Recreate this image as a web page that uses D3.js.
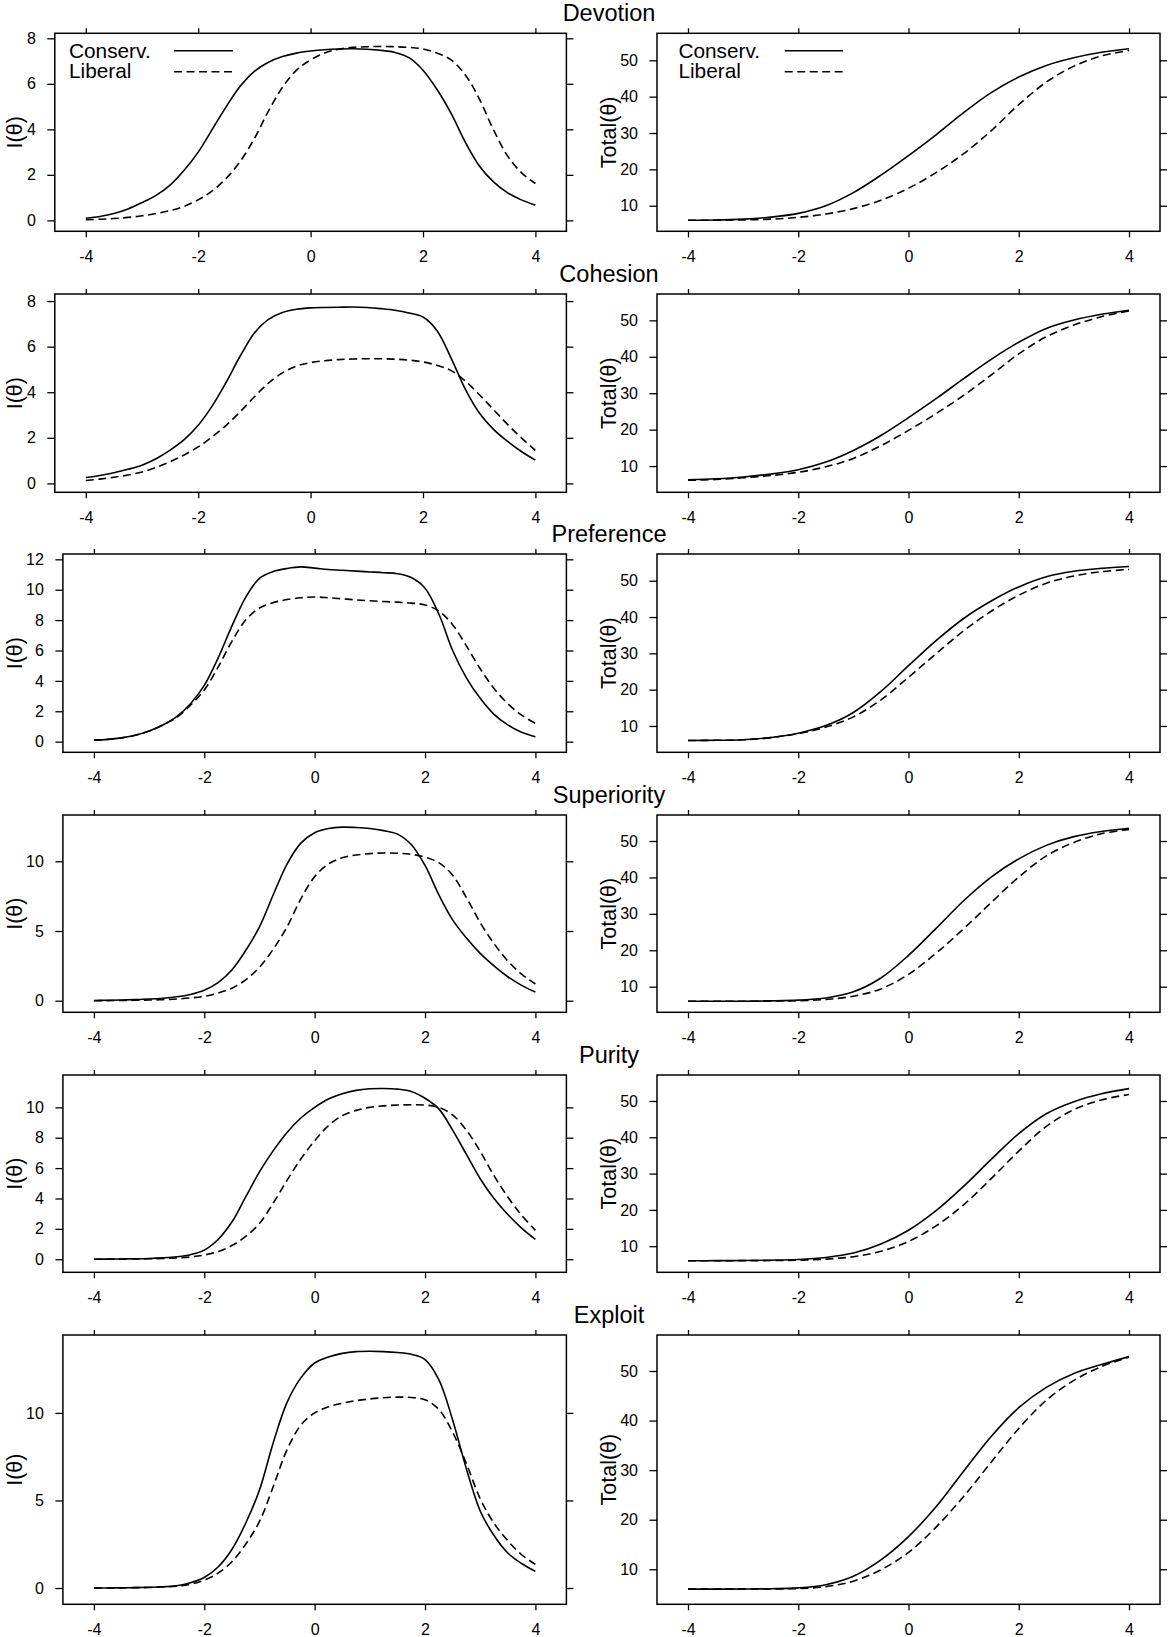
<!DOCTYPE html>
<html><head><meta charset="utf-8">
<script src="https://cdn.jsdelivr.net/npm/d3@7"></script>
<style>
body{margin:0;background:#fff}
svg{display:block}
text{font-family:"Liberation Sans",Arial,Helvetica,sans-serif;fill:#000}
</style>
</head><body>
<svg id="chart" width="1169" height="1637"></svg>
<script>
// ---------------- DATA ----------------
const titles = ["Devotion","Cohesion","Preference","Superiority","Purity","Exploit"];
const legendLabels = ["Conserv.","Liberal"];
const xTicks = [-4,-2,0,2,4];
const leftYTicks = [[0,2,4,6,8],[0,2,4,6,8],[0,2,4,6,8,10,12],[0,5,10],[0,2,4,6,8,10],[0,5,10]];
const rightYTicks = [10,20,30,40,50];

const thetaInfo = [-4,-3.75,-3.5,-3.25,-3,-2.75,-2.5,-2.25,-2,-1.75,-1.5,-1.25,-1,-0.75,-0.5,-0.25,0,0.25,0.5,0.75,1,1.25,1.5,1.75,2,2.25,2.5,2.75,3,3.25,3.5,3.75,4];
const thetaTotal = [-4,-3.5,-3,-2.5,-2,-1.5,-1,-0.5,0,0.5,1,1.5,2,2.5,3,3.5,4];

const devotionInfoConserv = [0.09,0.17,0.3,0.5,0.78,1.1,1.55,2.2,3.0,4.0,5.0,5.9,6.55,6.95,7.2,7.35,7.44,7.5,7.53,7.54,7.52,7.47,7.38,7.15,6.6,5.75,4.7,3.45,2.4,1.7,1.22,0.9,0.67];
const devotionInfoLiberal = [0.03,0.05,0.08,0.13,0.2,0.3,0.43,0.62,0.9,1.3,1.85,2.6,3.6,4.8,5.85,6.6,7.05,7.35,7.52,7.6,7.63,7.64,7.63,7.6,7.53,7.35,7.05,6.4,5.35,4.0,2.85,2.1,1.62];
const cohesionInfoConserv = [0.26,0.35,0.47,0.62,0.8,1.08,1.46,1.92,2.55,3.4,4.45,5.6,6.6,7.2,7.5,7.64,7.7,7.72,7.73,7.74,7.72,7.67,7.6,7.48,7.3,6.7,5.5,4.15,3.1,2.38,1.85,1.4,1.02];
const cohesionInfoLiberal = [0.13,0.19,0.27,0.37,0.5,0.7,0.95,1.25,1.6,2.05,2.55,3.15,3.8,4.4,4.85,5.15,5.3,5.38,5.43,5.46,5.47,5.47,5.45,5.41,5.33,5.18,4.95,4.5,3.9,3.25,2.6,2.0,1.45];
const preferenceInfoConserv = [0.1,0.15,0.25,0.42,0.7,1.1,1.65,2.5,3.7,5.5,7.6,9.5,10.75,11.2,11.4,11.5,11.42,11.33,11.28,11.22,11.17,11.12,11.05,10.8,10.1,8.4,6.0,4.2,2.85,1.8,1.1,0.62,0.32];
const preferenceInfoLiberal = [0.1,0.15,0.25,0.42,0.7,1.1,1.6,2.4,3.4,4.9,6.6,8.0,8.8,9.15,9.35,9.47,9.52,9.47,9.4,9.33,9.27,9.22,9.18,9.12,9.0,8.6,7.7,6.3,4.8,3.5,2.5,1.75,1.2];
const superiorityInfoConserv = [0.02,0.03,0.05,0.08,0.12,0.18,0.28,0.45,0.75,1.3,2.2,3.6,5.3,7.6,9.8,11.3,12.05,12.35,12.45,12.42,12.35,12.2,11.95,11.2,9.7,7.6,5.8,4.5,3.4,2.5,1.72,1.1,0.62];
const superiorityInfoLiberal = [0.0,0.01,0.02,0.03,0.05,0.08,0.12,0.2,0.32,0.55,0.9,1.5,2.4,3.7,5.3,7.3,8.9,9.8,10.25,10.45,10.55,10.6,10.58,10.5,10.3,9.9,9.0,7.4,5.6,4.1,2.85,1.9,1.2];
const purityInfoConserv = [0.0,0.01,0.02,0.03,0.05,0.09,0.16,0.3,0.6,1.3,2.45,4.1,5.75,7.15,8.35,9.3,10.0,10.55,10.9,11.12,11.22,11.24,11.2,11.05,10.6,9.9,8.5,6.9,5.3,4.0,2.95,2.05,1.3];
const purityInfoLiberal = [0.0,0.0,0.01,0.02,0.03,0.05,0.08,0.15,0.28,0.5,0.9,1.5,2.35,3.7,5.2,6.6,7.8,8.8,9.45,9.8,10.0,10.1,10.15,10.17,10.15,10.0,9.5,8.5,7.1,5.5,4.1,2.9,1.9];
const exploitInfoConserv = [0.0,0.0,0.01,0.02,0.04,0.07,0.13,0.3,0.6,1.2,2.2,3.7,5.6,8.3,10.6,12.0,12.85,13.2,13.4,13.5,13.52,13.5,13.45,13.35,13.05,11.9,9.6,6.8,4.4,3.0,2.0,1.4,0.95];
const exploitInfoLiberal = [0.0,0.0,0.01,0.02,0.03,0.06,0.11,0.22,0.45,0.85,1.5,2.5,3.8,5.8,7.9,9.3,10.0,10.35,10.55,10.7,10.8,10.87,10.9,10.88,10.75,10.2,8.9,7.1,5.1,3.7,2.7,1.9,1.35];

const devotionTotalConserv = [6.0,6.05,6.3,6.85,7.9,10.0,13.6,18.4,23.8,29.5,35.6,41.1,45.4,48.6,50.7,52.2,53.2];
const devotionTotalLiberal = [6.0,6.03,6.1,6.3,6.8,7.7,9.2,11.5,14.8,19.1,24.3,30.6,37.8,44.0,48.4,51.2,52.7];
const cohesionTotalConserv = [6.2,6.5,7.0,7.8,9.0,11.1,14.3,18.4,23.3,28.5,34.0,39.3,44.0,47.8,50.1,51.7,52.8];
const cohesionTotalLiberal = [6.1,6.3,6.8,7.4,8.3,9.8,12.1,15.6,19.8,24.4,29.4,35.0,40.8,45.5,48.7,51.0,52.6];
const preferenceTotalConserv = [6.0,6.05,6.2,6.8,8.0,10.1,13.7,19.5,26.6,33.5,39.6,44.4,48.3,51.1,52.6,53.4,53.9];
const preferenceTotalLiberal = [6.0,6.05,6.2,6.8,7.9,9.7,12.5,17.2,23.4,29.9,36.2,41.6,46.0,49.3,51.3,52.5,53.1];
const superiorityTotalConserv = [6.0,6.0,6.02,6.1,6.3,6.9,8.6,12.4,18.6,26.0,33.6,40.1,45.1,48.8,51.2,52.6,53.5];
const superiorityTotalLiberal = [6.0,6.0,6.0,6.05,6.15,6.5,7.4,9.4,13.4,19.2,25.9,33.1,40.1,45.9,49.6,52.0,53.2];
const purityTotalConserv = [6.0,6.02,6.05,6.15,6.35,6.9,8.1,10.6,14.4,19.8,26.5,33.9,41.0,46.5,49.8,52.0,53.4];
const purityTotalLiberal = [6.0,6.0,6.02,6.05,6.15,6.45,7.1,8.6,11.3,15.6,21.4,28.6,36.2,43.0,47.6,50.3,51.8];
const exploitTotalConserv = [6.0,6.0,6.02,6.08,6.25,6.9,8.6,11.9,16.6,22.6,29.8,36.8,42.6,46.7,49.5,51.3,52.9];
const exploitTotalLiberal = [6.0,6.0,6.01,6.04,6.12,6.5,7.6,9.9,13.4,18.5,24.7,31.6,38.4,44.1,48.1,50.9,52.8];

const infoSeries = [
  [devotionInfoConserv, devotionInfoLiberal],
  [cohesionInfoConserv, cohesionInfoLiberal],
  [preferenceInfoConserv, preferenceInfoLiberal],
  [superiorityInfoConserv, superiorityInfoLiberal],
  [purityInfoConserv, purityInfoLiberal],
  [exploitInfoConserv, exploitInfoLiberal]
];
const totalSeries = [
  [devotionTotalConserv, devotionTotalLiberal],
  [cohesionTotalConserv, cohesionTotalLiberal],
  [preferenceTotalConserv, preferenceTotalLiberal],
  [superiorityTotalConserv, superiorityTotalLiberal],
  [purityTotalConserv, purityTotalLiberal],
  [exploitTotalConserv, exploitTotalLiberal]
];

// axis ranges (y limits of each plot region)
const leftYDomains = [[-0.48,8.22],[-0.39,8.31],[-0.70,12.35],[-0.83,13.32],[-0.86,12.13],[-0.93,14.45]];
const rightYDomains = [[2.96,57.43],[2.8,57.24],[2.75,57.36],[2.97,57.14],[2.81,57.16],[2.94,57.26]];

// ---------------- LAYOUT ----------------
const rowTop = [33.3,294,554,815,1075,1335];
const rowBottom = [231.3,492.3,752.3,1012.3,1272.3,1604.3];
const leftBoxLeft = [54.8,54.8,62.9,62.9,62.9,62.9];
const leftBoxRight = 566.4;
const rightBoxLeft = 657, rightBoxRight = 1160;
const xPad = 31;
const titleX = 609;

const svg = d3.select("#chart");
const dash = "8,4.5";

function drawPanel(cfg) {
  const {x0, x1, top, bottom, yDom, yTicks, thetas, series, ylab, ylabX, legend} = cfg;
  const x = d3.scaleLinear().domain([-4, 4]).range([x0 + xPad, x1 - xPad]);
  const y = d3.scaleLinear().domain(yDom).range([bottom, top]);
  const g = svg.append("g");

  const clean = sel => {
    sel.attr("font-size", null).attr("font-family", null);
    sel.select(".domain").remove();
    sel.selectAll(".tick line").attr("stroke", "#000").attr("stroke-width", 1.3);
    sel.selectAll(".tick text").style("font-size", "16px").attr("fill", "#000");
  };

  g.append("g").attr("transform", `translate(0,${bottom})`)
    .call(d3.axisBottom(x).tickValues(xTicks).tickSize(6).tickPadding(13).tickFormat(d3.format("d")))
    .call(clean);
  g.append("g").attr("transform", `translate(0,${top})`)
    .call(d3.axisTop(x).tickValues(xTicks).tickSize(5).tickFormat(() => ""))
    .call(clean);
  g.append("g").attr("transform", `translate(${x0},0)`)
    .call(d3.axisLeft(y).tickValues(yTicks).tickSize(7.5).tickPadding(11.5).tickFormat(d3.format("d")))
    .call(clean);
  g.append("g").attr("transform", `translate(${x1},0)`)
    .call(d3.axisRight(y).tickValues(yTicks).tickSize(7).tickFormat(() => ""))
    .call(clean);

  // hyphen-minus like the original output
  g.selectAll(".tick text").text(function(){ return this.textContent.replace("\u2212", "-"); });

  g.append("rect")
    .attr("x", x0).attr("y", top).attr("width", x1 - x0).attr("height", bottom - top)
    .attr("fill", "none").attr("stroke", "#000").attr("stroke-width", 1.5);

  const line = d3.line().x((d, i) => x(thetas[i])).y(d => y(d)).curve(d3.curveCatmullRom.alpha(0.5));
  series.forEach((s, k) => {
    g.append("path").datum(s).attr("d", line)
      .attr("fill", "none").attr("stroke", "#000").attr("stroke-width", 1.6)
      .attr("stroke-dasharray", k === 1 ? dash : null);
  });

  const cy = (top + bottom) / 2;
  g.append("text").attr("x", ylabX).attr("y", cy)
    .attr("transform", `rotate(-90,${ylabX},${cy})`)
    .attr("text-anchor", "middle").attr("dominant-baseline", "central")
    .style("font-size", "21.5px").text(ylab);

  if (legend) {
    legendLabels.forEach((lab, k) => {
      g.append("text").attr("x", x0 + legend.textDx).attr("y", top + 25 + k * 20)
        .style("font-size", "20.8px").text(lab);
      g.append("line")
        .attr("x1", x0 + legend.lineDx1).attr("x2", x0 + legend.lineDx2)
        .attr("y1", top + 17.4 + k * 21).attr("y2", top + 17.4 + k * 21)
        .attr("stroke", "#000").attr("stroke-width", 1.6)
        .attr("stroke-dasharray", k === 1 ? dash : null);
    });
  }
}

titles.forEach((t, r) => {
  svg.append("text").attr("x", titleX).attr("y", rowTop[r] - 12.3)
    .attr("text-anchor", "middle").style("font-size", "23.5px").text(t);

  drawPanel({
    x0: leftBoxLeft[r], x1: leftBoxRight, top: rowTop[r], bottom: rowBottom[r],
    yDom: leftYDomains[r], yTicks: leftYTicks[r], thetas: thetaInfo, series: infoSeries[r],
    ylab: "I(\u03B8)", ylabX: 15,
    legend: r === 0 ? {textDx: 14.2, lineDx1: 119.2, lineDx2: 178.2} : null
  });
  drawPanel({
    x0: rightBoxLeft, x1: rightBoxRight, top: rowTop[r], bottom: rowBottom[r],
    yDom: rightYDomains[r], yTicks: rightYTicks, thetas: thetaTotal, series: totalSeries[r],
    ylab: "Total(\u03B8)", ylabX: 609,
    legend: r === 0 ? {textDx: 21.4, lineDx1: 127.7, lineDx2: 186} : null
  });
});
</script>
</body></html>
